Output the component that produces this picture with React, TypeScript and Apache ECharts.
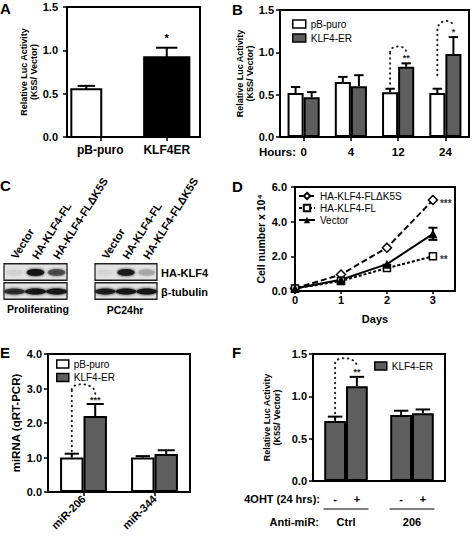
import React, { useEffect, useRef } from 'react';
import * as echarts from 'echarts';

const FONT = '"Liberation Sans", Arial, Helvetica, sans-serif';

// ---------- Panel A ----------
const A_CATEGORIES = ['pB-puro', 'KLF4ER'];
const A_VALUES = [0.55, 0.92];
const A_ERRORS = [0.59, 1.03];
const A_STARS = ['', '*'];

// ---------- Panel B ----------
const B_HOURS = ['0', '4', '12', '24'];
const B_PB_PURO = [0.52, 0.65, 0.53, 0.52];
const B_PB_PURO_ERR = [0.59, 0.71, 0.57, 0.57];
const B_KLF4ER = [0.47, 0.6, 0.83, 0.98];
const B_KLF4ER_ERR = [0.53, 0.73, 0.87, 1.18];
const B_SIG_CATS = [2, 3];
const B_SIG_LINES = [
  [0.63, 1.0, 1.07, 1.0],
  [0.73, 1.26, 1.37, 1.3],
];
const B_SIG_STAR_Y = [0.93, 1.24];
const B_SIG_LABELS = ['**', '*'];

// ---------- Panel C ----------
const C_LANES = ['Vector', 'HA-KLF4-FL', 'HA-KLF4-FLΔK5S'];
const C_ROWS = ['HA-KLF4', 'β-tubulin'];
const C_PROLIF_HA = [0.04, 1.0, 0.55];
const C_PROLIF_TUB = [0.75, 1.0, 1.0];
const C_PC24_HA = [0.03, 0.9, 0.15];
const C_PC24_TUB = [0.9, 1.0, 1.0];

// ---------- Panel D ----------
const D_DAYS = [0, 1, 2, 3];
const D_DK5S = [0.15, 0.95, 2.5, 5.25];
const D_FL = [0.15, 0.58, 1.32, 2.0];
const D_VECTOR = [0.15, 0.65, 1.55, 3.3];
const D_VECTOR_ERR = [[3, 2.95, 3.65]];
const D_SIG = [
  [3, 5.25],
  [3, 2.0],
];
const D_SIG_LABELS = ['***', '**'];

// ---------- Panel E ----------
const E_CATEGORIES = ['miR-206', 'miR-344'];
const E_PB_PURO = [1.0, 1.0];
const E_PB_PURO_ERR = [1.11, 1.04];
const E_KLF4ER = [2.2, 1.1];
const E_KLF4ER_ERR = [2.55, 1.21];
const E_SIG_CATS = [0];
const E_SIG_LINES = [[1.18, 2.97, 3.12, 2.85]];
const E_SIG_STAR_Y = [2.68];
const E_SIG_LABELS = ['***'];

// ---------- Panel F ----------
const F_ANTIMIR = ['Ctrl', '206'];
const F_TREATMENT = ['-', '+'];
const F_MINUS = [0.71, 0.78];
const F_MINUS_ERR = [0.76, 0.83];
const F_PLUS = [1.12, 0.8];
const F_PLUS_ERR = [1.23, 0.845];
const F_SIG_CATS = [0];
const F_SIG_LINES = [[0.8, 1.39, 1.45, 1.35]];
const F_SIG_STAR_Y = [1.29];
const F_SIG_LABELS = ['**'];

const GRAY = '#5e5e5e';

const boldLabel = (size: number, margin: number) => ({
  fontFamily: FONT,
  fontWeight: 'bold' as const,
  fontSize: size,
  color: '#000',
  margin,
});
const axisLine = { show: true, lineStyle: { color: '#000', width: 2 } };
const axisTick = { show: true, length: 4, lineStyle: { color: '#000', width: 1.5 } };
const fmt1 = (v: number) => v.toFixed(1);

const txtStyle = (text: string, x: number, y: number, size: number, align = 'center', color = '#000') => ({
  text,
  x,
  y,
  align,
  verticalAlign: 'middle',
  textAlign: align,
  textVerticalAlign: 'middle',
  fontFamily: FONT,
  fontWeight: 'bold',
  fontSize: size,
  fill: color,
});

function errorSeries(xi: number, values: number[], errs: number[], offset: number, capFrac: number) {
  return {
    type: 'custom',
    xAxisIndex: xi,
    yAxisIndex: xi,
    silent: true,
    z: 5,
    data: values.map((v, i) => [i, v, errs[i]]),
    renderItem: (_p: any, api: any) => {
      const i = api.value(0);
      const band = api.size([1, 0])[0];
      const base = api.coord([i, api.value(1)]);
      const top = api.coord([i, api.value(2)]);
      const x = base[0] + offset * band;
      const cw = (capFrac * band) / 2;
      const st = { stroke: '#000', lineWidth: 2 };
      return {
        type: 'group',
        children: [
          { type: 'line', shape: { x1: x, y1: base[1], x2: x, y2: top[1] }, style: st },
          { type: 'line', shape: { x1: x - cw, y1: top[1], x2: x + cw, y2: top[1] }, style: st },
        ],
      };
    },
  };
}

function sigSeries(
  xi: number,
  cats: number[],
  lines: number[][],
  starY: number[],
  labels: string[],
  off: number,
  fontSize: number
) {
  return {
    type: 'custom',
    xAxisIndex: xi,
    yAxisIndex: xi,
    silent: true,
    z: 6,
    data: cats.map((c, k) => [c, lines[k][0], lines[k][1], lines[k][2], lines[k][3], starY[k], k]),
    renderItem: (_p: any, api: any) => {
      const c = api.value(0);
      const band = api.size([1, 0])[0];
      const xc = api.coord([c, 0])[0];
      const xL = xc - off * band;
      const xR = xc + off * band;
      const yy = (d: number) => api.coord([c, api.value(d)])[1];
      const yS = yy(1), yT = yy(2), yP = yy(3), yE = yy(4), yStar = yy(5);
      const cy = (yP - 0.125 * (yT + yE)) / 0.75;
      const dot = { stroke: '#222', lineWidth: 2, lineDash: [0.5, 4.5], lineCap: 'round', fill: 'none' };
      return {
        type: 'group',
        children: [
          { type: 'line', shape: { x1: xL, y1: yS, x2: xL, y2: yT }, style: dot },
          {
            type: 'bezierCurve',
            shape: { x1: xL, y1: yT, x2: xR, y2: yE, cpx1: xL, cpy1: cy, cpx2: xR, cpy2: cy },
            style: dot,
          },
          { type: 'text', style: txtStyle(labels[api.value(6)], xR, yStar, fontSize, 'center', '#222') },
        ],
      };
    },
  };
}

function blotFrames(xi: number) {
  return {
    type: 'custom',
    xAxisIndex: xi,
    yAxisIndex: xi,
    silent: true,
    z: 2,
    data: C_ROWS.map((_r, i) => [0, i]),
    renderItem: (params: any, api: any) => {
      const cs = params.coordSys;
      const y = api.coord([0, api.value(1)])[1];
      const h = api.size([0, 1])[1];
      return {
        type: 'rect',
        shape: { x: cs.x, y: y - h / 2 + 0.75, width: cs.width, height: h - 2.5 },
        style: { fill: '#e3e3e3', stroke: '#222', lineWidth: 1.3 },
      };
    },
  };
}

function blotBands(xi: number, ha: number[], tub: number[]) {
  const data: number[][] = [];
  ha.forEach((v, i) => data.push([i, 0, v]));
  tub.forEach((v, i) => data.push([i, 1, v]));
  return {
    type: 'custom',
    xAxisIndex: xi,
    yAxisIndex: xi,
    silent: true,
    z: 3,
    data,
    renderItem: (_p: any, api: any) => {
      const pt = api.coord([api.value(0), api.value(1)]);
      const band = api.size([1, 0])[0];
      const v = api.value(2);
      const row = api.value(1);
      return {
        type: 'ellipse',
        shape: { cx: pt[0], cy: pt[1], rx: band * (row === 0 ? 0.42 : 0.5), ry: row === 0 ? 3.4 : 3.0 },
        style: { fill: '#151515', opacity: v, shadowBlur: 3, shadowColor: '#151515' },
      };
    },
  };
}

function laneLabels(xi: number) {
  return {
    type: 'custom',
    xAxisIndex: xi,
    yAxisIndex: xi,
    silent: true,
    clip: false,
    z: 4,
    data: C_LANES.map((_l, i) => [i, 0]),
    renderItem: (params: any, api: any) => {
      const i = api.value(0);
      const x = api.coord([i, 0])[0] - 1;
      const y = params.coordSys.y - 5;
      return {
        type: 'text',
        x,
        y,
        rotation: (58 * Math.PI) / 180,
        style: txtStyle(C_LANES[i], 0, 0, 11, 'left'),
      };
    },
  };
}

const App: React.FC = () => {
  const ref = useRef<HTMLDivElement>(null);

  useEffect(() => {
    if (!ref.current) return;
    const chart = echarts.init(ref.current, undefined, { renderer: 'svg' });

    const gridBox = { show: true, borderColor: '#000', borderWidth: 2, backgroundColor: 'transparent' };
    const nameStyle = (size: number) => ({
      fontFamily: FONT,
      fontWeight: 'bold' as const,
      fontSize: size,
      color: '#000',
      lineHeight: size + 1,
    });
    const valueY = (gi: number, max: number, interval: number, margin: number, name: string, nameGap: number, nameSize: number) => ({
      gridIndex: gi,
      type: 'value',
      min: 0,
      max,
      interval,
      axisLine,
      axisTick,
      splitLine: { show: false },
      axisLabel: { ...boldLabel(11, margin), formatter: fmt1 },
      name,
      nameLocation: 'middle',
      nameGap,
      nameRotate: 90,
      nameTextStyle: nameStyle(nameSize),
    });

    const legendCommon = {
      orient: 'vertical',
      padding: 0,
      icon: 'rect',
      itemStyle: { borderColor: '#000', borderWidth: 1.5 },
      textStyle: { fontFamily: FONT, fontSize: 10, color: '#000' },
    };

    const textG = (text: string, x: number, y: number, size: number, align = 'left') => ({
      type: 'text',
      x,
      y,
      silent: true,
      style: txtStyle(text, 0, 0, size, align),
    });

    const option: any = {
      animation: false,
      backgroundColor: '#fff',
      grid: [
        { left: 67, top: 7, width: 133, height: 130, ...gridBox },
        { left: 280, top: 10, width: 189, height: 127, ...gridBox },
        { left: 4, top: 263, width: 63, height: 38, show: false },
        { left: 95, top: 263, width: 62, height: 38, show: false },
        { left: 295, top: 187, width: 160, height: 104, ...gridBox },
        { left: 48, top: 354, width: 142, height: 138, ...gridBox },
        { left: 313, top: 354, width: 132, height: 127, ...gridBox },
      ],
      xAxis: [
        {
          gridIndex: 0,
          type: 'category',
          data: A_CATEGORIES,
          axisLine,
          axisTick: { ...axisTick, alignWithLabel: true },
          axisLabel: boldLabel(12, 7),
        },
        {
          gridIndex: 1,
          type: 'category',
          data: B_HOURS,
          axisLine,
          axisTick: { ...axisTick, alignWithLabel: true },
          axisLabel: boldLabel(11.5, 9),
        },
        {
          gridIndex: 2,
          type: 'category',
          data: C_LANES,
          axisLine: { show: false },
          axisTick: { show: false },
          axisLabel: { show: false },
        },
        {
          gridIndex: 3,
          type: 'category',
          data: C_LANES,
          axisLine: { show: false },
          axisTick: { show: false },
          axisLabel: { show: false },
        },
        {
          gridIndex: 4,
          type: 'value',
          min: 0,
          max: 3.48,
          interval: 1,
          axisLine,
          axisTick: { ...axisTick, length: 3 },
          splitLine: { show: false },
          axisLabel: { ...boldLabel(11, 3), showMaxLabel: false },
          name: 'Days',
          nameLocation: 'middle',
          nameGap: 22,
          nameTextStyle: nameStyle(11),
        },
        {
          gridIndex: 5,
          type: 'category',
          data: E_CATEGORIES,
          axisLine,
          axisTick: { ...axisTick, alignWithLabel: true },
          axisLabel: { ...boldLabel(11, 5), rotate: 45, interval: 0 },
        },
        {
          gridIndex: 6,
          type: 'category',
          data: F_ANTIMIR,
          axisLine,
          axisTick: { show: false },
          axisLabel: boldLabel(11, 35),
        },
      ],
      yAxis: [
        valueY(0, 1.5, 0.5, 9, 'Relative Luc Activity\n(K5S/ Vector)', 25, 9),
        valueY(1, 1.5, 0.5, 6, 'Relative Luc Activity\n(K5S/ Vector)', 25, 9),
        {
          gridIndex: 2,
          type: 'category',
          inverse: true,
          data: C_ROWS,
          axisLine: { show: false },
          axisTick: { show: false },
          axisLabel: { show: false },
        },
        {
          gridIndex: 3,
          type: 'category',
          inverse: true,
          position: 'right',
          data: C_ROWS,
          axisLine: { show: false },
          axisTick: { show: false },
          axisLabel: boldLabel(11, 4),
        },
        valueY(4, 6, 2, 8, 'Cell number x 10⁴', 28, 10.5),
        valueY(5, 4, 1, 6, 'miRNA (qRT-PCR)', 26, 11.5),
        valueY(6, 1.5, 0.5, 6, 'Relative Luc Activity\n(K5S/ Vector)', 31, 9),
      ],
      legend: [
        { ...legendCommon, data: ['pB-puro', 'KLF4-ER'], left: 292, top: 19, itemWidth: 13, itemHeight: 8, itemGap: 4 },
        { ...legendCommon, data: ['pB-puro', 'KLF4-ER'], left: 56, top: 359, itemWidth: 12, itemHeight: 8, itemGap: 3.5 },
        { ...legendCommon, data: ['KLF4-ER'], left: 374, top: 361, itemWidth: 12, itemHeight: 8 },
        {
          orient: 'vertical',
          padding: 0,
          data: ['HA-KLF4-FLΔK5S', 'HA-KLF4-FL', 'Vector'],
          left: 298,
          top: 191,
          itemWidth: 16,
          itemHeight: 8,
          itemGap: 2,
          textStyle: { fontFamily: FONT, fontSize: 10, color: '#000' },
        },
      ],
      graphic: [
        textG('A', 0, 8, 15),
        textG('B', 232, 9, 15),
        textG('C', 0, 185, 15),
        textG('D', 232, 186, 15),
        textG('E', 0, 352, 15),
        textG('F', 232, 352, 15),
        textG('Hours:', 296, 152, 11.5, 'right'),
        textG('Proliferating', 38, 309, 10.5, 'center'),
        textG('PC24hr', 125, 310, 10.5, 'center'),
        textG('4OHT (24 hrs):', 320, 499, 11, 'right'),
        textG('Anti-miR:', 319, 522, 11, 'right'),
      ],
      series: [
        // ---- A ----
        {
          type: 'custom',
          name: 'A',
          xAxisIndex: 0,
          yAxisIndex: 0,
          z: 4,
          data: A_VALUES.map((v, i) => [i, v, A_ERRORS[i]]),
          renderItem: (_p: any, api: any) => {
            const i = api.value(0);
            const band = api.size([1, 0])[0];
            const offs = [-0.21, 0];
            const widths = [0.45, 0.68];
            const caps = [0.26, 0.32];
            const fills = ['#fff', '#000'];
            const base = api.coord([i, 0]);
            const top = api.coord([i, api.value(1)]);
            const err = api.coord([i, api.value(2)]);
            const xc = base[0] + offs[i] * band;
            const w = widths[i] * band;
            const cw = (caps[i] * band) / 2;
            const st = { stroke: '#000', lineWidth: 2 };
            return {
              type: 'group',
              children: [
                { type: 'line', shape: { x1: xc, y1: top[1], x2: xc, y2: err[1] }, style: st },
                { type: 'line', shape: { x1: xc - cw, y1: err[1], x2: xc + cw, y2: err[1] }, style: st },
                {
                  type: 'rect',
                  shape: { x: xc - w / 2, y: top[1], width: w, height: base[1] - top[1] },
                  style: { fill: fills[i], stroke: '#000', lineWidth: 2 },
                },
                { type: 'text', style: txtStyle(A_STARS[i], xc, err[1] - 10, 11) },
              ],
            };
          },
        },
        // ---- B ----
        {
          type: 'bar',
          name: 'pB-puro',
          xAxisIndex: 1,
          yAxisIndex: 1,
          data: B_PB_PURO,
          barWidth: '34%',
          barGap: '0%',
          itemStyle: { color: '#fff', borderColor: '#000', borderWidth: 2 },
        },
        {
          type: 'bar',
          name: 'KLF4-ER',
          xAxisIndex: 1,
          yAxisIndex: 1,
          data: B_KLF4ER,
          barWidth: '34%',
          barGap: '0%',
          itemStyle: { color: GRAY, borderColor: '#000', borderWidth: 2 },
        },
        errorSeries(1, B_PB_PURO, B_PB_PURO_ERR, -0.17, 0.2),
        errorSeries(1, B_KLF4ER, B_KLF4ER_ERR, 0.17, 0.2),
        sigSeries(1, B_SIG_CATS, B_SIG_LINES, B_SIG_STAR_Y, B_SIG_LABELS, 0.17, 9),
        // ---- C ----
        blotFrames(2),
        blotBands(2, C_PROLIF_HA, C_PROLIF_TUB),
        laneLabels(2),
        blotFrames(3),
        blotBands(3, C_PC24_HA, C_PC24_TUB),
        laneLabels(3),
        // ---- D ----
        {
          type: 'line',
          name: 'HA-KLF4-FLΔK5S',
          xAxisIndex: 4,
          yAxisIndex: 4,
          z: 4,
          data: D_DAYS.map((d, i) => [d, D_DK5S[i]]),
          symbol: 'diamond',
          symbolSize: 9,
          lineStyle: { color: '#000', width: 2, type: [6, 3] },
          itemStyle: { color: '#fff', borderColor: '#000', borderWidth: 1.5 },
        },
        {
          type: 'line',
          name: 'HA-KLF4-FL',
          xAxisIndex: 4,
          yAxisIndex: 4,
          z: 4,
          data: D_DAYS.map((d, i) => [d, D_FL[i]]),
          symbol: 'rect',
          symbolSize: 7,
          lineStyle: { color: '#000', width: 2, type: [3, 2] },
          itemStyle: { color: '#fff', borderColor: '#000', borderWidth: 1.5 },
        },
        {
          type: 'line',
          name: 'Vector',
          xAxisIndex: 4,
          yAxisIndex: 4,
          z: 4,
          data: D_DAYS.map((d, i) => [d, D_VECTOR[i]]),
          symbol: 'triangle',
          symbolSize: 9,
          lineStyle: { color: '#000', width: 2 },
          itemStyle: { color: '#000' },
        },
        {
          type: 'custom',
          xAxisIndex: 4,
          yAxisIndex: 4,
          silent: true,
          z: 5,
          data: D_VECTOR_ERR,
          renderItem: (_p: any, api: any) => {
            const lo = api.coord([api.value(0), api.value(1)]);
            const hi = api.coord([api.value(0), api.value(2)]);
            const st = { stroke: '#000', lineWidth: 2 };
            return {
              type: 'group',
              children: [
                { type: 'line', shape: { x1: lo[0], y1: lo[1], x2: hi[0], y2: hi[1] }, style: st },
                { type: 'line', shape: { x1: lo[0] - 4.5, y1: lo[1], x2: lo[0] + 4.5, y2: lo[1] }, style: st },
                { type: 'line', shape: { x1: hi[0] - 4.5, y1: hi[1], x2: hi[0] + 4.5, y2: hi[1] }, style: st },
              ],
            };
          },
        },
        {
          type: 'custom',
          xAxisIndex: 4,
          yAxisIndex: 4,
          silent: true,
          clip: false,
          z: 6,
          data: D_SIG.map((p, k) => [p[0], p[1], k]),
          renderItem: (_p: any, api: any) => {
            const pt = api.coord([api.value(0), api.value(1)]);
            return {
              type: 'text',
              style: txtStyle(D_SIG_LABELS[api.value(2)], pt[0] + 7, pt[1] + 3, 10, 'left', '#333'),
            };
          },
        },
        // ---- E ----
        {
          type: 'bar',
          name: 'pB-puro',
          xAxisIndex: 5,
          yAxisIndex: 5,
          data: E_PB_PURO,
          barWidth: '33%',
          barGap: '0%',
          itemStyle: { color: '#fff', borderColor: '#000', borderWidth: 2 },
        },
        {
          type: 'bar',
          name: 'KLF4-ER',
          xAxisIndex: 5,
          yAxisIndex: 5,
          data: E_KLF4ER,
          barWidth: '33%',
          barGap: '0%',
          itemStyle: { color: GRAY, borderColor: '#000', borderWidth: 2 },
        },
        errorSeries(5, E_PB_PURO, E_PB_PURO_ERR, -0.165, 0.2),
        errorSeries(5, E_KLF4ER, E_KLF4ER_ERR, 0.165, 0.24),
        sigSeries(5, E_SIG_CATS, E_SIG_LINES, E_SIG_STAR_Y, E_SIG_LABELS, 0.165, 9),
        // ---- F ----
        {
          type: 'bar',
          name: 'KLF4-ER',
          xAxisIndex: 6,
          yAxisIndex: 6,
          data: F_MINUS,
          barWidth: '33%',
          barGap: '0%',
          itemStyle: { color: GRAY, borderColor: '#000', borderWidth: 2 },
        },
        {
          type: 'bar',
          name: 'KLF4-ER',
          xAxisIndex: 6,
          yAxisIndex: 6,
          data: F_PLUS,
          barWidth: '33%',
          barGap: '0%',
          itemStyle: { color: GRAY, borderColor: '#000', borderWidth: 2 },
        },
        errorSeries(6, F_MINUS, F_MINUS_ERR, -0.165, 0.22),
        errorSeries(6, F_PLUS, F_PLUS_ERR, 0.165, 0.22),
        sigSeries(6, F_SIG_CATS, F_SIG_LINES, F_SIG_STAR_Y, F_SIG_LABELS, 0.165, 9),
        {
          type: 'custom',
          xAxisIndex: 6,
          yAxisIndex: 6,
          silent: true,
          clip: false,
          data: F_ANTIMIR.map((_c, i) => [i, 0]),
          renderItem: (_p: any, api: any) => {
            const i = api.value(0);
            const band = api.size([1, 0])[0];
            const base = api.coord([i, 0]);
            return {
              type: 'group',
              children: [
                { type: 'text', style: txtStyle(F_TREATMENT[0], base[0] - 0.165 * band, base[1] + 18, 11) },
                { type: 'text', style: txtStyle(F_TREATMENT[1], base[0] + 0.165 * band, base[1] + 18, 11) },
                {
                  type: 'line',
                  shape: { x1: base[0] - 0.34 * band, y1: base[1] + 28, x2: base[0] + 0.34 * band, y2: base[1] + 28 },
                  style: { stroke: '#000', lineWidth: 1.2 },
                },
              ],
            };
          },
        },
      ],
    };

    chart.setOption(option);
    return () => chart.dispose();
  }, []);

  return (
    <div
      ref={ref}
      style={{ position: 'fixed', left: 0, top: 0, width: 474, height: 539, background: '#fff' }}
    />
  );
};

export default App;
